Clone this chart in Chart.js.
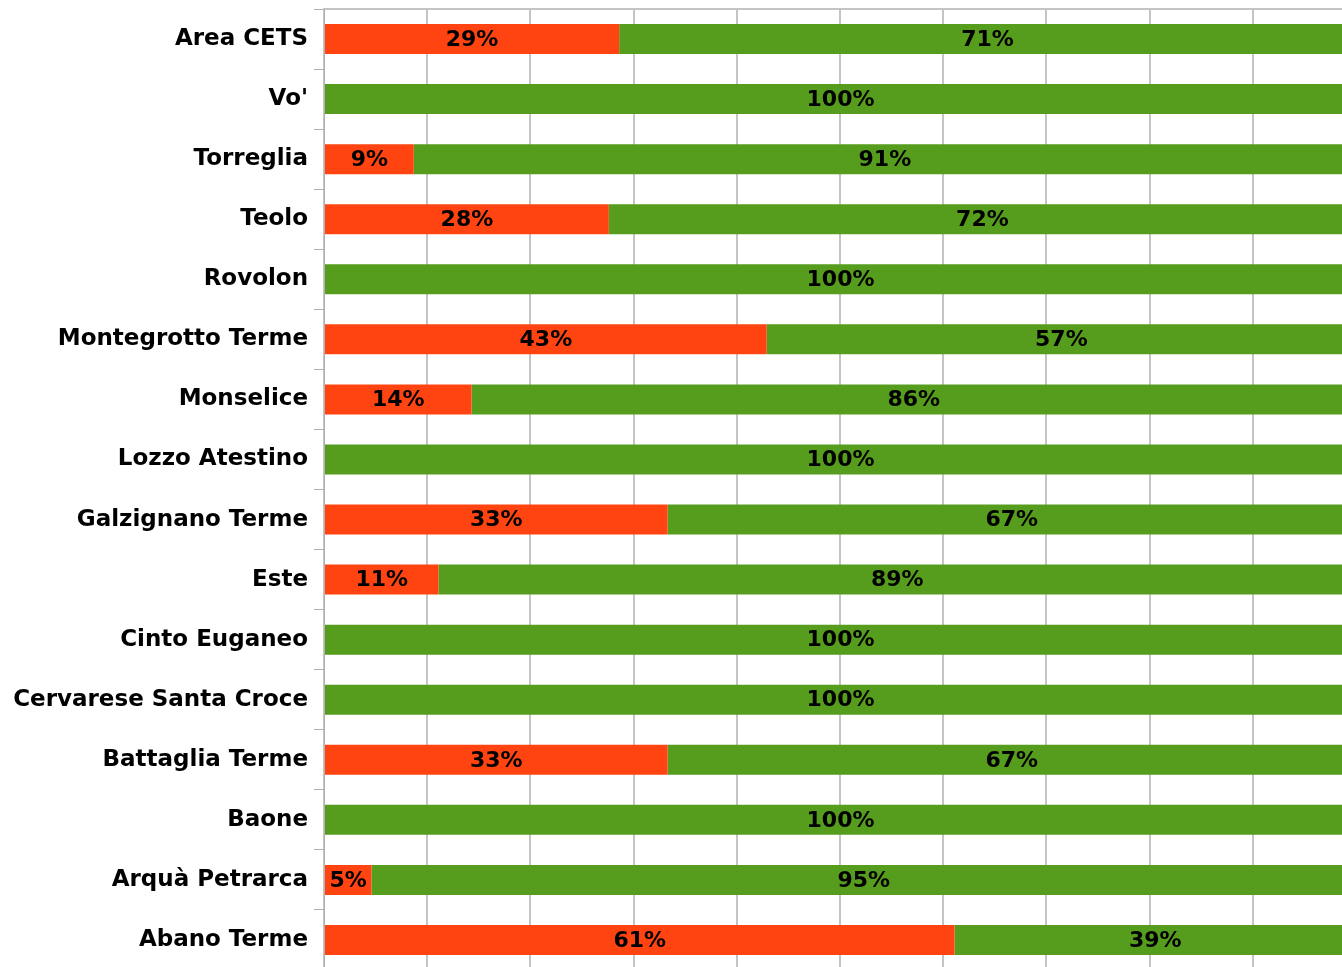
<!DOCTYPE html>
<html>
<head>
<meta charset="utf-8">
<script src="https://cdn.jsdelivr.net/npm/chart.js@4/dist/chart.umd.min.js"></script>
<style>
  html, body { margin: 0; padding: 0; background: #fff; overflow: hidden; }
  #wrap { position: absolute; left: 0; top: 0; width: 1360px; height: 976px; }
</style>
</head>
<body>
<div id="wrap"><canvas id="c"></canvas></div>
<script>
const categories = ["Area CETS", "Vo'", "Torreglia", "Teolo", "Rovolon", "Montegrotto Terme", "Monselice", "Lozzo Atestino", "Galzignano Terme", "Este", "Cinto Euganeo", "Cervarese Santa Croce", "Battaglia Terme", "Baone", "Arquà Petrarca", "Abano Terme"];
const redValues   = [28.6, 0, 8.7, 27.6, 0, 42.9, 14.3, 0, 33.3, 11.1, 0, 0, 33.3, 0, 4.6, 61.1];
const greenValues = [71.4, 100, 91.3, 72.4, 100, 57.1, 85.7, 100, 66.7, 88.9, 100, 100, 66.7, 100, 95.4, 38.9];
const xTicks = [0, 10, 20, 30, 40, 50, 60, 70, 80, 90, 100];

const labelPlugin = {
  id: 'segLabels',
  afterDatasetsDraw(chart) {
    const ctx = chart.ctx;
    ctx.save();
    ctx.font = 'bold 22px "DejaVu Sans"';
    ctx.fillStyle = '#000';
    ctx.textAlign = 'center';
    ctx.textBaseline = 'middle';
    chart.data.datasets.forEach((ds, di) => {
      const meta = chart.getDatasetMeta(di);
      meta.data.forEach((bar, i) => {
        const v = ds.data[i];
        if (!v) return;
        const x = (bar.x + bar.base) / 2;
        ctx.fillText(Math.round(v) + '%', x, bar.y + 1);
      });
    });
    ctx.restore();
  }
};

new Chart(document.getElementById('c'), {
  type: 'bar',
  data: {
    labels: categories,
    datasets: [
      { label: 'A', data: redValues, backgroundColor: '#FF4411', borderWidth: 0, barPercentage: 0.5, categoryPercentage: 1.0 },
      { label: 'B', data: greenValues, backgroundColor: '#569D1D', borderWidth: 0, barPercentage: 0.5, categoryPercentage: 1.0 }
    ]
  },
  options: {
    indexAxis: 'y',
    responsive: true,
    maintainAspectRatio: false,
    animation: false,
    layout: { padding: { left: 0, top: 9, right: 4, bottom: 6 } },
    plugins: { legend: { display: false }, tooltip: { enabled: false } },
    scales: {
      x: {
        position: 'top',
        stacked: true,
        min: 0, max: 100,
        afterBuildTicks(scale) { scale.ticks = xTicks.map(v => ({ value: v })); },
        ticks: { display: false },
        grid: { color: '#c4c4c4', lineWidth: 2, drawTicks: false },
        border: { display: true, color: '#c4c4c4', width: 2 },
        afterFit(scale) { scale.height = 0; scale.paddingLeft = 0; scale.paddingRight = 0; }
      },
      y: {
        stacked: true,
        ticks: { color: '#000', font: { family: 'DejaVu Sans', size: 23, weight: 'bold' }, padding: 6, autoSkip: false },
        grid: { offset: true, drawOnChartArea: false, drawTicks: true, tickLength: 10, color: '#b0b0b0', lineWidth: 1 },
        border: { display: true, color: '#b0b0b0', width: 1 },
        afterFit(scale) { scale.width = 324; scale.paddingTop = 0; scale.paddingBottom = 0; }
      }
    }
  },
  plugins: [labelPlugin]
});
</script>
</body>
</html>
